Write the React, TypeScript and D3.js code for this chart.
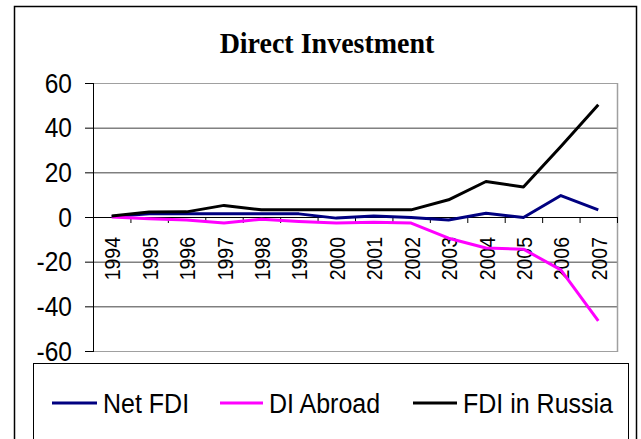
import React from "react";
import * as d3 from "d3";

const years = ["1994","1995","1996","1997","1998","1999","2000","2001","2002","2003","2004","2005","2006","2007"];
const netFDI = [0.2, 1.4, 1.4, 1.4, 1.4, 1.4, -0.5, 0.5, -0.2, -1.3, 1.7, -0.2, 9.6, 3.2];
const diAbroad = [0, -0.8, -1.3, -2.7, -1.0, -2.0, -2.7, -2.3, -2.7, -9.5, -13.9, -14.4, -23.7, -46.5];
const fdiRussia = [0.5, 2.2, 2.3, 5.2, 3.2, 3.2, 3.2, 3.2, 3.2, 7.7, 15.9, 13.4, 31.6, 50.3];
const yTicks = [60, 40, 20, 0, -20, -40, -60];
const title = "Direct Investment";

const series = [
  { name: "Net FDI", values: netFDI, color: "#000080", lx1: 52, lx2: 97, tx: 103 },
  { name: "DI Abroad", values: diAbroad, color: "#FF00FF", lx1: 220, lx2: 263, tx: 269 },
  { name: "FDI in Russia", values: fdiRussia, color: "#000000", lx1: 413, lx2: 457, tx: 463 },
];

export default function App() {
  const W = 641, H = 439;
  const left = 93, right = 617, top = 83, bottom = 351;
  const x = d3.scaleBand<string>().domain(years).range([left, right]).padding(0);
  const bw = x.bandwidth();
  const y = d3.scaleLinear().domain([-60, 60]).range([bottom, top]);
  const cx = (i: number) => (x(years[i]) as number) + bw / 2;
  const line = d3.line<number>().x((_, i) => cx(i)).y((v) => y(v));
  const sans = "'Liberation Sans', Arial, sans-serif";

  return (
    <svg width={W} height={H} style={{ position: "absolute", left: 0, top: 0, background: "#fff" }}>
      <rect x={14.5} y={6.5} width={622} height={450} fill="#fff" stroke="#000" strokeWidth={1.5} />
      <text transform="translate(327,53) scale(1,1.08)" textAnchor="middle" fontFamily="'Liberation Serif', 'Times New Roman', serif" fontWeight="bold" fontSize={28}>{title}</text>
      {yTicks.map((t) => (
        <line key={"g" + t} x1={left} x2={right} y1={y(t) + 0.5} y2={y(t) + 0.5} stroke={t === 60 || t === -60 ? "#a0a0a0" : "#404040"} strokeWidth={1} />
      ))}
      <line x1={right + 0.5} x2={right + 0.5} y1={top} y2={bottom + 1} stroke="#a0a0a0" strokeWidth={1.5} />
      <line x1={left + 0.5} x2={left + 0.5} y1={top} y2={bottom + 1} stroke="#000" strokeWidth={1} />
      {yTicks.map((t) => (
        <g key={"y" + t}>
          <line x1={left - 8} x2={left} y1={y(t) + 0.5} y2={y(t) + 0.5} stroke="#000" strokeWidth={1} />
          <text transform={`translate(72,${y(t) + 9.5}) scale(1,1.1)`} textAnchor="end" fontFamily={sans} fontSize={24.5}>{t}</text>
        </g>
      ))}
      <line x1={left} x2={right} y1={y(0) + 0.5} y2={y(0) + 0.5} stroke="#000" strokeWidth={1} />
      {d3.range(years.length + 1).map((i) => (
        <line key={"xt" + i} x1={left + i * bw + 0.5} x2={left + i * bw + 0.5} y1={y(0)} y2={y(0) + 6} stroke="#000" strokeWidth={1} />
      ))}
      {years.map((yr, i) => (
        <text key={yr} transform={`translate(${cx(i) + 8.5},237) rotate(-90) scale(1,1.1)`} textAnchor="end" fontFamily={sans} fontSize={19.5}>{yr}</text>
      ))}
      {series.map((s) => (
        <path key={s.name} d={line(s.values) as string} fill="none" stroke={s.color} strokeWidth={3} strokeLinejoin="round" />
      ))}
      <rect x={33.5} y={363.5} width={595} height={100} fill="#fff" stroke="#000" strokeWidth={1} />
      {series.map((s) => (
        <g key={"l" + s.name}>
          <line x1={s.lx1} x2={s.lx2} y1={403} y2={403} stroke={s.color} strokeWidth={3} />
          <text transform={`translate(${s.tx},412.5) scale(1,1.12)`} fontFamily={sans} fontSize={25}>{s.name}</text>
        </g>
      ))}
    </svg>
  );
}
